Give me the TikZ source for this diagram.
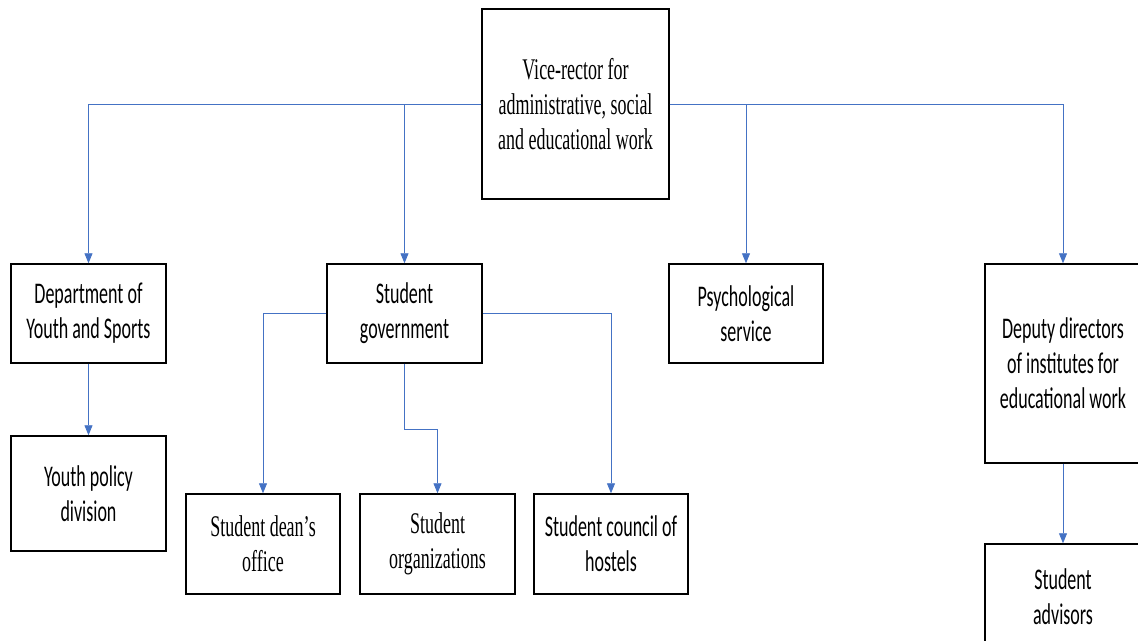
\documentclass[tikz,border=0pt]{standalone}
\usepackage{fontspec}
\usetikzlibrary{arrows.meta}
\newfontfamily\serifnarrow[FakeStretch=0.6]{Liberation Serif}
\newfontfamily\sansnarrow[FakeStretch=0.6]{Carlito}
\definecolor{linkblue}{RGB}{68,114,196}
\begin{document}
\begin{tikzpicture}[x=0.7pt,y=0.7pt,
  box/.style={draw,line width=1pt,fill=white,inner sep=2pt,align=center,minimum width=108.5pt,minimum height=69.3pt,font=\sansnarrow\fontsize{21}{24.5}\selectfont},
  sbox/.style={box,font=\serifnarrow\fontsize{21}{24.5}\selectfont},
  link/.style={draw=linkblue,line width=0.6pt,-{Triangle[width=5.6pt,length=7pt]}}]
\clip (0,0) rectangle (1138,641);
\node[sbox,minimum width=130.9pt,minimum height=133pt] (vr) at (575.5,537) {Vice-rector for\\administrative, social\\and educational work};
\node[box] (dys) at (88.5,327.5) {Department of\\Youth and Sports};
\node[box,minimum height=80.5pt] (ypd) at (88.5,147.5) {Youth policy\\division};
\node[box] (sg) at (404.5,327.5) {Student\\government};
\node[box,minimum width=107.8pt] (ps) at (746,327.5) {Psychological\\service};
\node[box,minimum width=109.2pt,minimum height=139.3pt] (dd) at (1063,277.5) {Deputy directors\\of institutes for\\educational work};
\node[sbox,minimum width=107.8pt,minimum height=70pt] (sdo) at (263,97) {Student dean’s\\office};
\node[sbox,minimum height=70pt] (so) at (437.5,97) {Student\\organizations};
\node[box,minimum width=107.8pt,minimum height=70pt] (sch) at (611,97) {Student council of\\hostels};
\node[box,minimum width=109.2pt,minimum height=74.2pt] (sa) at (1063,44) {Student\\advisors};
\coordinate (kink) at (404.5,212);

\draw[link] (vr.west) -| (dys.north);
\draw[link] (vr.west) -| (sg.north);
\draw[link] (vr.east) -| (ps.north);
\draw[link] (vr.east) -| (dd.north);
\draw[link] (dys) -- (ypd);
\draw[link] (dd) -- (sa);
\draw[link] (sg.west) -| (sdo.north);
\draw[link] (sg.east) -| (sch.north);
\draw[link] (sg.south) -- (kink) -| (so.north);
\end{tikzpicture}
\end{document}
